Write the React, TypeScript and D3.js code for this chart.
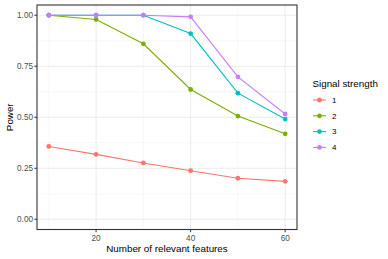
import * as d3 from "d3";

const features = [10, 20, 30, 40, 50, 60];
const signalLevels = ["1", "2", "3", "4"];
const power1 = [0.357, 0.318, 0.276, 0.238, 0.201, 0.186];
const power2 = [1.0, 0.979, 0.86, 0.636, 0.506, 0.419];
const power3 = [1.0, 1.0, 1.0, 0.91, 0.618, 0.491];
const power4 = [1.0, 1.0, 1.0, 0.992, 0.698, 0.516];
const xTicks = [20, 40, 60];
const xMinor = [10, 30, 50];
const yTicks = [0, 0.25, 0.5, 0.75, 1];
const yMinor = [0.125, 0.375, 0.625, 0.875];

const colors = ["#F8766D", "#7CAE00", "#00BFC4", "#C77CFF"];
const font = "'Liberation Sans', Arial, sans-serif";

export default function App() {
  const width = 388;
  const height = 259;
  const panel = { left: 37, right: 297, top: 5, bottom: 229.5 };

  const x = d3.scaleLinear().domain([7.5, 62.5]).range([panel.left, panel.right]);
  const y = d3.scaleLinear().domain([-0.05, 1.05]).range([panel.bottom, panel.top]);

  const series = [power1, power2, power3, power4].map((values, i) => ({
    key: signalLevels[i],
    color: colors[i],
    points: values.map((v, j) => ({ x: features[j], y: v })),
  }));

  const line = d3
    .line<{ x: number; y: number }>()
    .x((d) => x(d.x))
    .y((d) => y(d.y));

  const legendX = 313;
  const legendY0 = 100;
  const legendStep = 15.8;

  return (
    <svg
      width={width}
      height={height}
      style={{ position: "absolute", left: 0, top: 0, background: "#fff" }}
      fontFamily={font}
    >
      <rect width={width} height={height} fill="#fff" />
      {yMinor.map((t) => (
        <line key={`ym${t}`} x1={panel.left} x2={panel.right} y1={y(t)} y2={y(t)} stroke="#F2F2F2" strokeWidth={0.6} />
      ))}
      {xMinor.map((t) => (
        <line key={`xm${t}`} x1={x(t)} x2={x(t)} y1={panel.top} y2={panel.bottom} stroke="#F2F2F2" strokeWidth={0.6} />
      ))}
      {yTicks.map((t) => (
        <line key={`y${t}`} x1={panel.left} x2={panel.right} y1={y(t)} y2={y(t)} stroke="#EBEBEB" strokeWidth={1} />
      ))}
      {xTicks.map((t) => (
        <line key={`x${t}`} x1={x(t)} x2={x(t)} y1={panel.top} y2={panel.bottom} stroke="#EBEBEB" strokeWidth={1} />
      ))}

      {series.map((s) => (
        <g key={s.key}>
          <path d={line(s.points) ?? ""} fill="none" stroke={s.color} strokeWidth={1.1} />
          {s.points.map((p, j) => (
            <circle key={j} cx={x(p.x)} cy={y(p.y)} r={2.4} fill={s.color} />
          ))}
        </g>
      ))}

      <rect
        x={panel.left}
        y={panel.top}
        width={panel.right - panel.left}
        height={panel.bottom - panel.top}
        fill="none"
        stroke="#333333"
        strokeWidth={1.1}
      />

      {yTicks.map((t) => (
        <g key={`yl${t}`}>
          <line x1={panel.left - 2.7} x2={panel.left} y1={y(t)} y2={y(t)} stroke="#333333" strokeWidth={1} />
          <text x={panel.left - 4} y={y(t)} dy="0.35em" textAnchor="end" fontSize={8.2} fill="#4D4D4D">
            {t.toFixed(2)}
          </text>
        </g>
      ))}
      {xTicks.map((t) => (
        <g key={`xl${t}`}>
          <line x1={x(t)} x2={x(t)} y1={panel.bottom} y2={panel.bottom + 2.7} stroke="#333333" strokeWidth={1} />
          <text x={x(t)} y={panel.bottom + 11} textAnchor="middle" fontSize={8.2} fill="#4D4D4D">
            {t}
          </text>
        </g>
      ))}

      <text x={(panel.left + panel.right) / 2} y={251.5} textAnchor="middle" fontSize={9.8} fill="#000">
        Number of relevant features
      </text>
      <text
        transform={`translate(13,${(panel.top + panel.bottom) / 2}) rotate(-90)`}
        textAnchor="middle"
        fontSize={9.8}
        fill="#000"
      >
        Power
      </text>

      <text x={legendX - 0.5} y={87} fontSize={9.8} fill="#000">
        Signal strength
      </text>
      {series.map((s, i) => {
        const ly = legendY0 + i * legendStep;
        return (
          <g key={`lg${s.key}`}>
            <line x1={legendX} x2={legendX + 13} y1={ly} y2={ly} stroke={s.color} strokeWidth={1.1} />
            <circle cx={legendX + 6.5} cy={ly} r={2.4} fill={s.color} />
            <text x={legendX + 19} y={ly} dy="0.35em" fontSize={8} fill="#000">
              {s.key}
            </text>
          </g>
        );
      })}
    </svg>
  );
}
